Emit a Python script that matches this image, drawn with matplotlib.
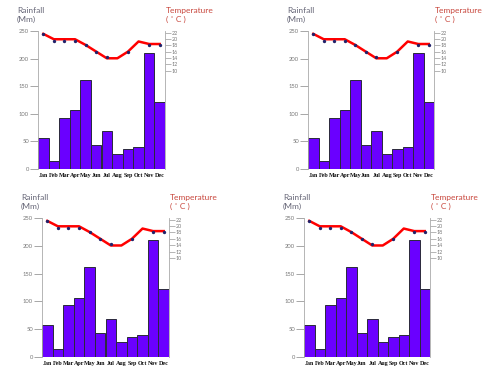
import matplotlib
matplotlib.use("Agg")
import matplotlib.pyplot as plt
import numpy as np

months = ["Jan", "Feb", "Mar", "Apr", "May", "Jun", "Jul", "Aug", "Sep", "Oct", "Nov", "Dec"]
rainfall = [57, 15, 93, 106, 161, 43, 68, 27, 36, 40, 210, 122]
temperature = [21.6, 19.9, 19.9, 19.9, 18.1, 16.0, 13.9, 13.9, 16.0, 19.2, 18.4, 18.4]
temp_markers = [21.6, 19.5, 19.5, 19.5, 18.1, 15.8, 14.4, None, 15.8, None, 18.1, 18.1]
rain_ticks = [0, 50, 100, 150, 200, 250]
temp_ticks = [10, 12, 14, 16, 18, 20, 22]

W, H = 500, 375
fig = plt.figure(figsize=(W / 100, H / 100), dpi=100)

# panels: (left px, top px, right px, bottom px)
panels = [
    (38, 31, 165, 169),
    (308, 31, 434, 169),
    (42, 218, 169, 357),
    (304, 218, 430, 357),
]

grey = "#777777"
sans = ["Lato", "DejaVu Sans"]

for (l, t, r, b) in panels:
    ax = fig.add_axes([l / W, 1 - b / H, (r - l) / W, (b - t) / H])
    x = np.arange(len(months))
    ax.bar(x, rainfall, width=1.0, color="#6a00ff", edgecolor="#2a2a3a", linewidth=0.7, zorder=2)
    ax.set_xlim(-0.5, 11.5)
    ax.set_ylim(0, 250)
    ax.set_yticks(rain_ticks)
    ax.set_yticklabels([str(v) for v in rain_ticks], fontsize=4.2, color=grey, family=sans)
    ax.tick_params(axis="y", length=5.5, width=0.6, color="#999999", pad=1)
    ax.set_xticks(x)
    ax.set_xticklabels(months, fontsize=4.3, family="Liberation Serif", fontweight="bold", color="#111111")
    ax.tick_params(axis="x", length=0, pad=3)
    for s in ["top", "right", "bottom"]:
        ax.spines[s].set_visible(False)
    ax.spines["left"].set_color("#aaaaaa")
    ax.spines["left"].set_linewidth(0.6)

    ax2 = ax.twinx()
    ax2.set_ylim(-21, 22.5)
    ax2.plot(x, temperature, color="#ff0000", linewidth=1.8, zorder=3)
    mx = [i for i, v in enumerate(temp_markers) if v is not None]
    my = [v for v in temp_markers if v is not None]
    ax2.plot(mx, my, linestyle="none", marker="o", markersize=1.4, color="#22226a", zorder=4)
    ax2.set_yticks(temp_ticks)
    ax2.set_yticklabels([str(v) for v in temp_ticks], fontsize=3.9, color=grey, family=sans)
    ax2.tick_params(axis="y", length=4, width=0.5, color="#999999", pad=1)
    for s in ["top", "left", "bottom"]:
        ax2.spines[s].set_visible(False)
    ax2.spines["right"].set_color("#aaaaaa")
    ax2.spines["right"].set_linewidth(0.6)

    fig.text((l - 21) / W, 1 - (t - 24) / H, "Rainfall\n(Mm)", fontsize=6, color="#666677",
             family=sans, ha="left", va="top", linespacing=1.25)
    fig.text((r + 1) / W, 1 - (t - 24) / H, "Temperature\n( \u02da C )", fontsize=6, color="#c8463c",
             family=sans, ha="left", va="top", linespacing=1.25)

fig.savefig("out.png", dpi=100)
